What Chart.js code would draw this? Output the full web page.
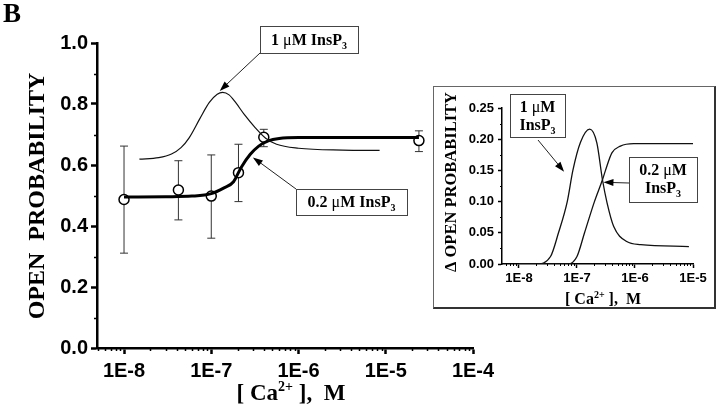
<!DOCTYPE html>
<html>
<head>
<meta charset="utf-8">
<script src="https://cdn.jsdelivr.net/npm/chart.js@4.4.0/dist/chart.umd.min.js"></script>
<style>
html, body { margin: 0; padding: 0; background: #fff; }
#wrap { position: relative; width: 720px; height: 406px; overflow: hidden; }
#main { position: absolute; left: 0; top: 0; }
#insetBox { position: absolute; left: 433px; top: 86px; width: 283px; height: 223px; box-sizing: border-box;
  border: 1px solid #666; border-right: 2px solid #333; border-bottom: 2px solid #333; background: #fff; }
#inset { position: absolute; left: 0; top: 0; }
#panel { position: absolute; left: 3px; top: 0; font: bold 27px "Liberation Serif"; line-height: 27px; }
</style>
</head>
<body>
<div id="wrap">
  <canvas id="main" width="720" height="406"></canvas>
  <div id="panel">B</div>
  <div id="insetBox"><canvas id="inset" width="280" height="220"></canvas></div>
</div>
<script>
// ---- main panel: measured points (Ca2+ in M) ----
var mainConc  = [1e-8, 4.2e-8, 1.0e-7, 2.05e-7, 4.0e-7, 2.4e-5];
var mainPo    = [0.487, 0.518, 0.498, 0.575, 0.691, 0.680];
var mainErrHi = [0.662, 0.614, 0.633, 0.668, 0.717, 0.712];
var mainErrLo = [0.311, 0.420, 0.360, 0.480, 0.660, 0.644];

// fitted curve, 0.2 uM InsP3 (thick line)
var fitLowX = [1e-8, 3e-8, 6e-8, 1.0e-7, 1.4e-7, 1.8e-7, 2.2e-7, 2.8e-7, 3.5e-7, 4.5e-7, 6e-7, 1e-6, 1e-5, 2.4e-5];
var fitLowY = [0.495, 0.496, 0.498, 0.506, 0.525, 0.545, 0.592, 0.635, 0.662, 0.679, 0.687, 0.690, 0.690, 0.690];

// fitted curve, 1 uM InsP3 (thin line)
var fitHighX = [1.5e-8, 2.5e-8, 3.5e-8, 4.5e-8, 5.6e-8, 7.4e-8, 9.5e-8, 1.17e-7, 1.35e-7, 1.6e-7, 1.9e-7, 2.4e-7, 3.2e-7, 4.2e-7, 5.6e-7, 1e-6, 3.2e-6, 8.5e-6];
var fitHighY = [0.619, 0.624, 0.636, 0.657, 0.690, 0.752, 0.805, 0.832, 0.838, 0.830, 0.805, 0.765, 0.722, 0.688, 0.668, 0.655, 0.649, 0.648];

var mainXTicks = [1e-8, 1e-7, 1e-6, 1e-5, 1e-4];
var mainXTickLabels = ['1E-8', '1E-7', '1E-6', '1E-5', '1E-4'];

// ---- inset: delta open probability ----
var insetHighX = [1e-8, 2e-8, 3.5e-8, 4.8e-8, 6.8e-8, 8.5e-8, 1.15e-7, 1.66e-7, 2.2e-7, 2.75e-7, 3.3e-7, 4.3e-7, 7.2e-7, 1.26e-6, 8.5e-6];
var insetHighY = [0.0, 0.0, 0.012, 0.05, 0.10, 0.15, 0.195, 0.216, 0.194, 0.135, 0.098, 0.060, 0.036, 0.031, 0.028];
var insetLowX = [1e-8, 7e-8, 1e-7, 1.35e-7, 2e-7, 2.75e-7, 3.1e-7, 4e-7, 5.6e-7, 9.5e-7, 1e-5];
var insetLowY = [0.0, 0.0, 0.012, 0.05, 0.10, 0.135, 0.15, 0.178, 0.189, 0.193, 0.193];

var insetXTicks = [1e-8, 1e-7, 1e-6, 1e-5];
var insetXTickLabels = ['1E-8', '1E-7', '1E-6', '1E-5'];

function zip(xs, ys) {
    return xs.map(function (x, i) { return { x: x, y: ys[i] }; });
}

function drawRich(ctx, parts, cx, baseY, size) {
    function fontFor(st) {
        if (st === 'sub' || st === 'sup') return 'bold ' + Math.round(size * 0.62) + 'px "Liberation Serif"';
        if (st === 'g') return size + 'px "Liberation Serif"';
        return 'bold ' + size + 'px "Liberation Serif"';
    }
    var total = 0;
    parts.forEach(function (p) { ctx.font = fontFor(p[1]); total += ctx.measureText(p[0]).width; });
    var x = cx - total / 2;
    ctx.textAlign = 'left';
    ctx.textBaseline = 'alphabetic';
    ctx.fillStyle = '#000';
    parts.forEach(function (p) {
        ctx.font = fontFor(p[1]);
        var dy = p[1] === 'sub' ? size * 0.25 : (p[1] === 'sup' ? -size * 0.38 : 0);
        ctx.fillText(p[0], x, baseY + dy);
        x += ctx.measureText(p[0]).width;
    });
}

function arrow(ctx, x1, y1, x2, y2) {
    var a = Math.atan2(y2 - y1, x2 - x1);
    ctx.strokeStyle = '#222';
    ctx.lineWidth = 1;
    ctx.beginPath();
    ctx.moveTo(x1, y1);
    ctx.lineTo(x2 - 8 * Math.cos(a), y2 - 8 * Math.sin(a));
    ctx.stroke();
    ctx.fillStyle = '#000';
    ctx.beginPath();
    ctx.moveTo(x2, y2);
    ctx.lineTo(x2 - 10 * Math.cos(a) + 3.5 * Math.sin(a), y2 - 10 * Math.sin(a) - 3.5 * Math.cos(a));
    ctx.lineTo(x2 - 10 * Math.cos(a) - 3.5 * Math.sin(a), y2 - 10 * Math.sin(a) + 3.5 * Math.cos(a));
    ctx.closePath();
    ctx.fill();
}

var caTitle = [['[ Ca', 'b'], ['2+', 'sup'], [' ],  M', 'b']];
var lab1 = [['1 ', 'b'], ['\u03bc', 'g'], ['M InsP', 'b'], ['3', 'sub']];
var lab02 = [['0.2 ', 'b'], ['\u03bc', 'g'], ['M InsP', 'b'], ['3', 'sub']];

function decor(cfg) {
    return {
        id: 'decor',
        beforeDatasetsDraw: function (chart) {
            if (!cfg.errors) return;
            var ctx = chart.ctx, xs = chart.scales.x, ys = chart.scales.y;
            ctx.save();
            ctx.strokeStyle = '#333';
            ctx.lineWidth = 1;
            for (var i = 0; i < mainConc.length; i++) {
                var px = xs.getPixelForValue(mainConc[i]);
                var top = ys.getPixelForValue(mainErrHi[i]);
                var bot = ys.getPixelForValue(mainErrLo[i]);
                ctx.beginPath();
                ctx.moveTo(px, top); ctx.lineTo(px, bot);
                ctx.moveTo(px - 4, top); ctx.lineTo(px + 4, top);
                ctx.moveTo(px - 4, bot); ctx.lineTo(px + 4, bot);
                ctx.stroke();
            }
            ctx.restore();
        },
        afterDraw: function (chart) {
            var ctx = chart.ctx, xs = chart.scales.x, ys = chart.scales.y;
            var area = chart.chartArea;
            ctx.save();
            // minor ticks
            ctx.strokeStyle = '#000';
            ctx.lineWidth = cfg.minorWidth;
            ctx.beginPath();
            for (var d = -9; d <= -4; d++) {
                for (var k = 2; k <= 9; k++) {
                    var v = k * Math.pow(10, d);
                    if (v <= xs.min || v >= xs.max) continue;
                    var px = Math.round(xs.getPixelForValue(v)) + 0.5;
                    ctx.moveTo(px, area.bottom);
                    ctx.lineTo(px, area.bottom + cfg.minorLen);
                }
            }
            cfg.yMinor.forEach(function (v) {
                var py = Math.round(ys.getPixelForValue(v)) + 0.5;
                ctx.moveTo(area.left, py);
                ctx.lineTo(area.left - cfg.minorLen, py);
            });
            ctx.stroke();

            // label boxes with arrows
            cfg.notes.forEach(function (n) {
                ctx.fillStyle = '#fff';
                ctx.fillRect(n.box[0], n.box[1], n.box[2], n.box[3]);
                ctx.strokeStyle = '#444';
                ctx.lineWidth = 1;
                ctx.strokeRect(n.box[0] + 0.5, n.box[1] + 0.5, n.box[2], n.box[3]);
                n.lines.forEach(function (ln, j) {
                    drawRich(ctx, ln, n.box[0] + n.box[2] / 2, n.box[1] + n.base[j], n.size);
                });
                arrow(ctx, n.from[0], n.from[1], xs.getPixelForValue(n.tip.x), ys.getPixelForValue(n.tip.y));
            });

            // axis titles
            drawRich(ctx, caTitle, cfg.xTitle[0], cfg.xTitle[1], cfg.xTitle[2]);
            ctx.translate(cfg.yTitle[0], cfg.yTitle[1]);
            ctx.rotate(-Math.PI / 2);
            drawRich(ctx, cfg.yTitleText, 0, 0, cfg.yTitle[2]);
            ctx.restore();
        }
    };
}

function axisOpts(sizeTick, axisW, tickLen, pad) {
    return {
        ticks: { color: '#000', font: { family: 'Liberation Sans', weight: 'bold', size: sizeTick }, padding: pad, autoSkip: false, maxRotation: 0 },
        grid: { drawOnChartArea: false, tickLength: tickLen, tickWidth: axisW, tickColor: '#000' },
        border: { color: '#000', width: axisW }
    };
}

// ---- main chart ----
var mx = axisOpts(20, 2.5, 6, 5);
mx.type = 'logarithmic';
mx.min = 4.9e-9;
mx.max = 1e-4;
mx.afterBuildTicks = function (s) { s.ticks = mainXTicks.map(function (v) { return { value: v }; }); };
mx.ticks.callback = function (v, i) { return mainXTickLabels[i]; };
mx.afterFit = function (s) { s.height = 58; };

var my = axisOpts(20, 2.5, 6, 3);
my.min = 0;
my.max = 1;
my.ticks.stepSize = 0.2;
my.ticks.callback = function (v) { return v.toFixed(1); };
my.afterFit = function (s) { s.width = 97; };

new Chart(document.getElementById('main'), {
    type: 'line',
    data: {
        datasets: [
            { label: '1 uM InsP3', data: zip(fitHighX, fitHighY), borderColor: '#111', borderWidth: 1.2, pointRadius: 0, cubicInterpolationMode: 'monotone', fill: false },
            { label: '0.2 uM InsP3', data: zip(fitLowX, fitLowY), borderColor: '#000', borderWidth: 3, pointRadius: 0, cubicInterpolationMode: 'monotone', fill: false },
            { label: 'data', data: zip(mainConc, mainPo), showLine: false, pointRadius: 5, pointBackgroundColor: '#fff', pointBorderColor: '#000', pointBorderWidth: 1.5 }
        ]
    },
    options: {
        responsive: false, animation: false, devicePixelRatio: 1,
        layout: { padding: { top: 43, right: 247, left: 0, bottom: 0 } },
        plugins: { legend: { display: false }, tooltip: { enabled: false } },
        scales: { x: mx, y: my }
    },
    plugins: [decor({
        errors: true, minorLen: 3, minorWidth: 1.5,
        yMinor: [0.1, 0.3, 0.5, 0.7, 0.9],
        notes: [
            { box: [260, 26, 98, 27], lines: [lab1], base: [19], size: 16, from: [260, 53], tip: { x: 1.25e-7, y: 0.843 } },
            { box: [296, 189, 111, 26], lines: [lab02], base: [18], size: 16, from: [296, 189], tip: { x: 3.0e-7, y: 0.625 } }
        ],
        xTitle: [291, 400, 23],
        yTitle: [44, 196, 24],
        yTitleText: [['OPEN  PROBABILITY', 'b']]
    })]
});

// ---- inset chart ----
var ix = axisOpts(13, 1.5, 4, 3);
ix.type = 'logarithmic';
ix.min = 5.1e-9;
ix.max = 1e-5;
ix.afterBuildTicks = function (s) { s.ticks = insetXTicks.map(function (v) { return { value: v }; }); };
ix.ticks.callback = function (v, i) { return insetXTickLabels[i]; };
ix.afterFit = function (s) { s.height = 43; };

var iy = axisOpts(13, 1.5, 4, 4);
iy.min = 0;
iy.max = 0.25;
iy.ticks.stepSize = 0.05;
iy.ticks.callback = function (v) { return v.toFixed(2); };
iy.afterFit = function (s) { s.width = 68; };

new Chart(document.getElementById('inset'), {
    type: 'line',
    data: {
        datasets: [
            { label: '1 uM InsP3', data: zip(insetHighX, insetHighY), borderColor: '#111', borderWidth: 1.3, pointRadius: 0, cubicInterpolationMode: 'monotone', fill: false },
            { label: '0.2 uM InsP3', data: zip(insetLowX, insetLowY), borderColor: '#111', borderWidth: 1.3, pointRadius: 0, cubicInterpolationMode: 'monotone', fill: false }
        ]
    },
    options: {
        responsive: false, animation: false, devicePixelRatio: 1,
        layout: { padding: { top: 21, right: 21, left: 0, bottom: 0 } },
        plugins: { legend: { display: false }, tooltip: { enabled: false } },
        scales: { x: ix, y: iy }
    },
    plugins: [decor({
        errors: false, minorLen: 2, minorWidth: 1,
        yMinor: [0.025, 0.075, 0.125, 0.175, 0.225],
        notes: [
            { box: [76, 7, 55, 43], lines: [[['1 ', 'b'], ['\u03bc', 'g'], ['M', 'b']], [['InsP', 'b'], ['3', 'sub']]], base: [18, 36], size: 16, from: [104, 53], tip: { x: 6.0e-8, y: 0.148 } },
            { box: [195, 70, 68, 45], lines: [[['0.2 ', 'b'], ['\u03bc', 'g'], ['M', 'b']], [['InsP', 'b'], ['3', 'sub']]], base: [18, 36], size: 16, from: [195, 96], tip: { x: 2.86e-7, y: 0.131 } }
        ],
        xTitle: [169, 217, 16],
        yTitle: [22, 95, 16.5],
        yTitleText: [['\u0394 OPEN PROBABILITY', 'b']]
    })]
});
</script>
</body>
</html>
